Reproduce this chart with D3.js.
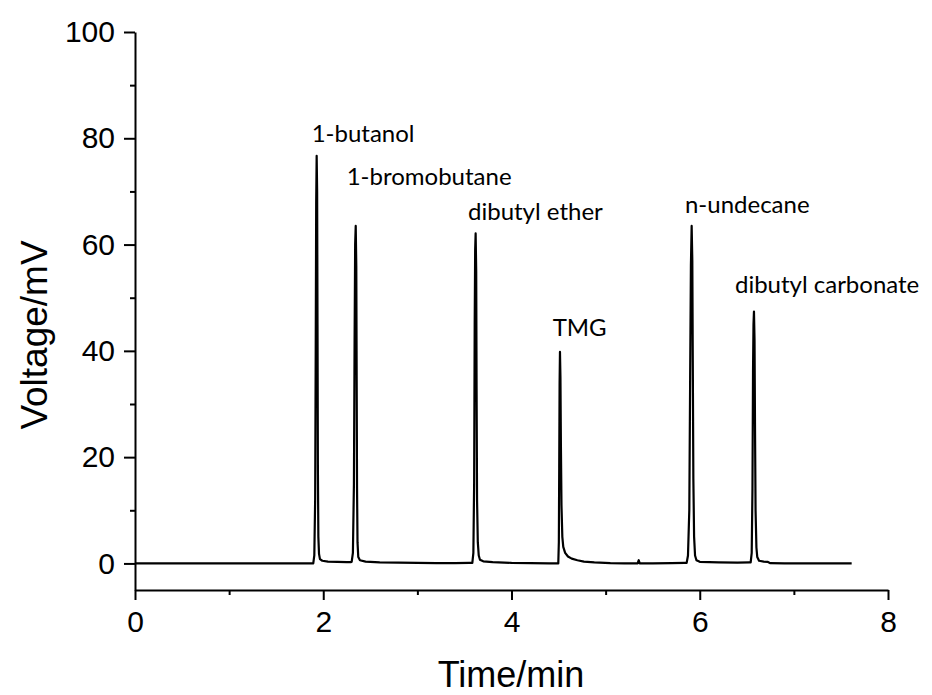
<!DOCTYPE html>
<html>
<head>
<meta charset="utf-8">
<script src="https://cdn.jsdelivr.net/npm/d3@7"></script>
<style>
  html, body { margin: 0; padding: 0; background: #fff; }
  svg { display: block; }
</style>
</head>
<body>
<svg id="chart" width="932" height="695"></svg>
<script>
// ---- data ----
const timeMin = [
  0, 1.0, 1.894,
  1.905, 1.914, 1.920, 1.925, 1.930, 1.935, 1.939, 1.943, 1.948, 1.955, 1.965, 1.99, 2.05, 2.15, 2.25, 2.29,
  2.302, 2.315, 2.326, 2.333, 2.339, 2.345, 2.351, 2.355, 2.359, 2.364, 2.372, 2.39, 2.45, 2.6, 2.8, 3.0, 3.2, 3.4, 3.55,
  3.584, 3.595, 3.603, 3.609, 3.614, 3.619, 3.625, 3.629, 3.634, 3.642, 3.652, 3.665, 3.7, 3.8, 4.0, 4.2, 4.4, 4.49,
  4.497, 4.503, 4.507, 4.511, 4.515, 4.520, 4.525, 4.531, 4.54, 4.55, 4.57, 4.6, 4.64, 4.7, 4.77, 4.88, 5.05, 5.2, 5.34, 5.352, 5.362, 5.5, 5.7, 5.84,
  5.861, 5.875, 5.889, 5.898, 5.906, 5.914, 5.921, 5.926, 5.932, 5.94, 5.95, 5.965, 6.0, 6.2, 6.4, 6.53,
  6.541, 6.552, 6.560, 6.566, 6.571, 6.576, 6.582, 6.587, 6.593, 6.602, 6.611, 6.63, 6.68, 6.72, 6.75, 6.9, 7.2, 7.614
];
const voltageMV = [
  0, 0, 0,
  1.5, 12, 40, 68, 76.7, 70, 45, 18, 5, 1.8, 0.8, 0.5, 0.35, 0.3, 0.25, 0.25,
  0.3, 2, 15, 42, 60, 63.5, 56, 35, 14, 4, 1.2, 0.6, 0.35, 0.2, 0.15, 0.1, 0.05, 0.05, 0.1,
  0.1, 2, 15, 45, 59, 62.1, 55, 33, 12, 4, 1.5, 0.7, 0.4, 0.25, 0.1, 0.05, 0, 0,
  0, 4, 18, 34, 39.8, 35, 22, 11, 5, 3.1, 2.0, 1.3, 0.9, 0.6, 0.35, 0.2, 0.05, 0, 0, 0.6, 0, 0, 0.05, 0.1,
  0.1, 1.5, 10, 35, 56, 63.5, 57, 38, 16, 5, 1.5, 0.6, 0.3, 0.2, 0.15, 0.2,
  0.2, 2, 14, 36, 45, 47.4, 42, 26, 10, 3, 1.2, 0.5, 0.35, 0.3, 0.05, 0, 0, 0
];
const peakNames = ["1-butanol", "1-bromobutane", "dibutyl ether", "TMG", "n-undecane", "dibutyl carbonate"];
// label anchor (start of text, baseline) in data units: minutes, mV
const labelTime = [1.877, 2.249, 3.538, 4.437, 5.843, 6.374];
const labelMV   = [79.3, 71.2, 64.7, 42.8, 65.9, 50.9];
const xTicks = [0, 2, 4, 6, 8];
const xMinorTicks = [1, 3, 5, 7];
const yTicks = [0, 20, 40, 60, 80, 100];
const yMinorTicks = [10, 30, 50, 70, 90];
const xTitle = "Time/min";
const yTitle = "Voltage/mV";

// ---- layout ----
const svg = d3.select("#chart");
const mLeft = 135, mRight = 888, mTop = 32, mBottom = 590;
const x = d3.scaleLinear().domain([0, 8]).range([mLeft, mRight]);
const y = d3.scaleLinear().domain([-5, 100]).range([mBottom, mTop]);

const axisFont = "'Liberation Sans', Arial, sans-serif";

function styleAxis(g) {
  g.selectAll(".domain").attr("stroke", "#000").attr("stroke-width", 2);
  g.selectAll(".tick line").attr("stroke", "#000").attr("stroke-width", 2);
  g.selectAll(".tick text").attr("font-family", axisFont).attr("font-size", 30).attr("fill", "#000");
}

// X axis
const gxMinor = svg.append("g").attr("transform", `translate(0,${mBottom})`)
  .call(d3.axisBottom(x).tickValues(xMinorTicks).tickSize(5).tickFormat(""));
gxMinor.select(".domain").remove();
styleAxis(gxMinor);
const gx = svg.append("g").attr("transform", `translate(0,${mBottom})`)
  .call(d3.axisBottom(x).tickValues(xTicks).tickSize(10).tickSizeOuter(0).tickPadding(11).tickFormat(d3.format("d")));
styleAxis(gx);

// Y axis
const gyMinor = svg.append("g").attr("transform", `translate(${mLeft},0)`)
  .call(d3.axisLeft(y).tickValues(yMinorTicks).tickSize(5).tickFormat(""));
gyMinor.select(".domain").remove();
styleAxis(gyMinor);
const gy = svg.append("g").attr("transform", `translate(${mLeft},0)`)
  .call(d3.axisLeft(y).tickValues(yTicks).tickSize(11).tickSizeOuter(0).tickPadding(9).tickFormat(d3.format("d")));
styleAxis(gy);

// Axis titles
svg.append("text")
  .attr("x", 511).attr("y", 687)
  .attr("text-anchor", "middle")
  .attr("font-family", axisFont).attr("font-size", 36).attr("fill", "#000")
  .text(xTitle);
svg.append("text")
  .attr("transform", "translate(47,335) rotate(-90)")
  .attr("text-anchor", "middle")
  .attr("font-family", axisFont).attr("font-size", 37).attr("fill", "#000")
  .text(yTitle);

// Chromatogram line
const series = timeMin.map((t, i) => [t, voltageMV[i]]);
svg.append("path")
  .datum(series)
  .attr("fill", "none")
  .attr("stroke", "#000")
  .attr("stroke-width", 2.2)
  .attr("stroke-linejoin", "round")
  .attr("d", d3.line().x(d => x(d[0])).y(d => y(d[1])));

// Peak labels
svg.append("g").selectAll("text")
  .data(peakNames)
  .join("text")
  .attr("x", (d, i) => x(labelTime[i]))
  .attr("y", (d, i) => y(labelMV[i]))
  .attr("font-family", "Lato, 'Open Sans', sans-serif")
  .attr("font-size", 24)
  .attr("fill", "#000")
  .text(d => d);
</script>
</body>
</html>
